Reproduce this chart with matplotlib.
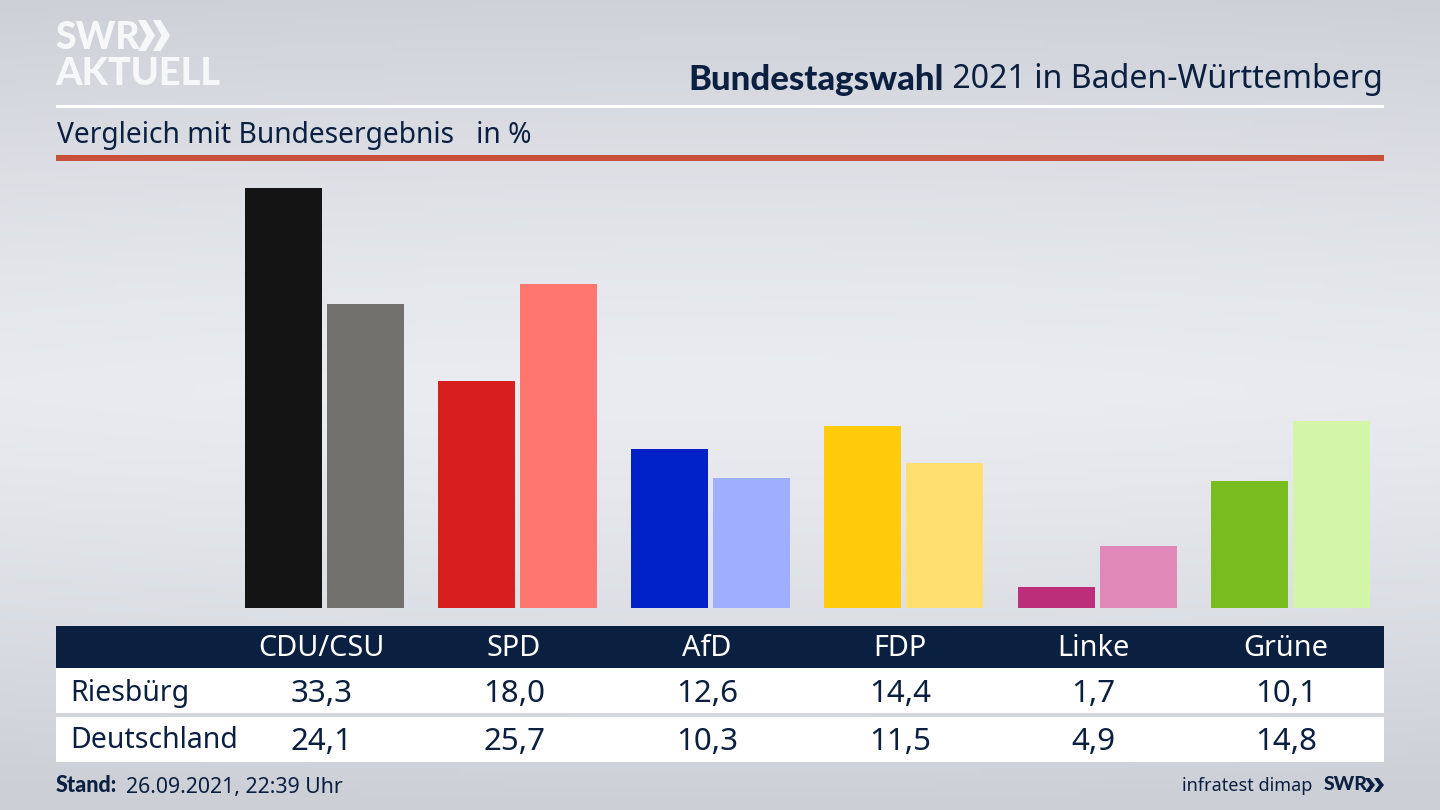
import numpy as np
import matplotlib
matplotlib.use('Agg')
import matplotlib.pyplot as plt
from matplotlib.patches import Rectangle, Polygon

plt.rcParams['font.family'] = ['Noto Sans', 'DejaVu Sans']

# Values
parties = ['CDU/CSU', 'SPD', 'AfD', 'FDP', 'Linke', 'Grüne']
riesbuerg = [33.3, 18.0, 12.6, 14.4, 1.7, 10.1]
deutschland = [24.1, 25.7, 10.3, 11.5, 4.9, 14.8]
row_names = ['Riesbürg', 'Deutschland']

# Party colours, dark for the town and light for the country
colors_dark = ['#141414', '#d81f1f', '#0021c8', '#ffcb0a', '#bc2e7a', '#78bd1d']
colors_light = ['#73716e', '#ff7570', '#a0aeff', '#ffdf70', '#e088b8', '#d3f5a8']

navy = '#0b2040'

W, H = 1440, 810
fig = plt.figure(figsize=(W / 100, H / 100), dpi=100)

# Background gradient, darker to top, bottom and the edges
bg = fig.add_axes([0, 0, 1, 1])
yy, xx = np.mgrid[0:1:200j, 0:1:200j]
shade = np.abs(yy - 0.48) / 0.52
shade = np.clip(shade ** 1.3 + 0.25 * np.abs(xx - 0.5) ** 2, 0, 1)
light = np.array([234, 236, 241]) / 255
dark = np.array([204, 207, 214]) / 255
img = light[None, None, :] + (dark - light)[None, None, :] * shade[:, :, None]
bg.imshow(img, extent=[0, 1, 0, 1], aspect='auto', origin='upper')
bg.axis('off')

# Bars
px_per_group = 193.1
x0 = 324.6
ax = fig.add_axes([56 / W, (H - 608) / H, (1384 - 56) / W, (608 - 170) / H])
ax.patch.set_alpha(0)
ax.set_xlim((56 - x0) / px_per_group, (1384 - x0) / px_per_group)
ax.set_ylim(0, (608 - 170) / 12.62)
x = np.arange(len(parties))
width = 77 / px_per_group
offset = 41 / px_per_group
ax.bar(x - offset, riesbuerg, width, color=colors_dark)
ax.bar(x + offset, deutschland, width, color=colors_light)
ax.axis('off')

# Everything else in pixel coordinates
ov = fig.add_axes([0, 0, 1, 1])
ov.patch.set_alpha(0)
ov.set_xlim(0, W)
ov.set_ylim(H, 0)
ov.axis('off')


def box(x1, y1, x2, y2, color):
    ov.add_patch(Rectangle((x1, y1), x2 - x1, y2 - y1, color=color, lw=0))


def chevrons(xs, ytop, ybot, w, color):
    for xc in xs:
        ym = (ytop + ybot) / 2
        ov.add_patch(Polygon([(xc, ytop), (xc + w * 0.45, ytop), (xc + w, ym),
                              (xc + w * 0.45, ybot), (xc, ybot), (xc + w * 0.5, ym)],
                             color=color, lw=0))


# Logo
ov.text(55, 38, 'SWR', color='#f6f7f8', fontsize=27, fontweight='black', va='center', ha='left', family='Lato')
chevrons([138, 153], 20, 51, 17, '#f6f7f8')
ov.text(55, 74, 'AKTUELL', color='#f6f7f8', fontsize=27.3, fontweight='black', va='center', ha='left', family='Lato')

# Title
t2 = ov.text(1383, 80, ' 2021 in Baden-Württemberg', color=navy, fontsize=23.1, ha='right', va='center')
fig.canvas.draw()
left = t2.get_window_extent().x0
ov.text(left, 80, 'Bundestagswahl', color=navy, fontsize=25, fontweight='black', ha='right', va='center', family='Lato')

box(56, 104.5, 1384, 107.5, 'white')
ov.text(57, 135, 'Vergleich mit Bundesergebnis   in %', color=navy, fontsize=20.3, ha='left', va='center')
box(56, 155, 1384, 160.5, '#c9503c')

# Table
box(56, 626, 1384, 668, navy)
box(56, 668, 1384, 713, 'white')
box(56, 717, 1384, 762, 'white')
for i, p in enumerate(parties):
    cx = 321 + 193 * i
    ov.text(cx, 648, p, color='white', fontsize=20.8, ha='center', va='center')
    ov.text(cx + 0.5, 694, f'{riesbuerg[i]:.1f}'.replace('.', ','), color=navy, fontsize=22.5, ha='center', va='center')
    ov.text(cx + 0.5, 742, f'{deutschland[i]:.1f}'.replace('.', ','), color=navy, fontsize=22.5, ha='center', va='center')
ov.text(70, 693, row_names[0], color=navy, fontsize=20.5, ha='left', va='center')
ov.text(70, 741, row_names[1], color=navy, fontsize=20.5, ha='left', va='center')

# Footer
ov.text(56, 786, 'Stand:', color=navy, fontsize=15.5, fontweight='black', ha='left', va='center', family='Lato')
ov.text(126, 787, '26.09.2021, 22:39 Uhr', color=navy, fontsize=15.3, ha='left', va='center')
ov.text(1312, 786, 'infratest dimap', color=navy, fontsize=13, ha='right', va='center')
ov.text(1324, 785, 'SWR', color=navy, fontsize=14, fontweight='black', ha='left', va='center', family='Lato')
chevrons([1365, 1374], 778, 792, 10, navy)

fig.savefig('out.png', dpi=100)
